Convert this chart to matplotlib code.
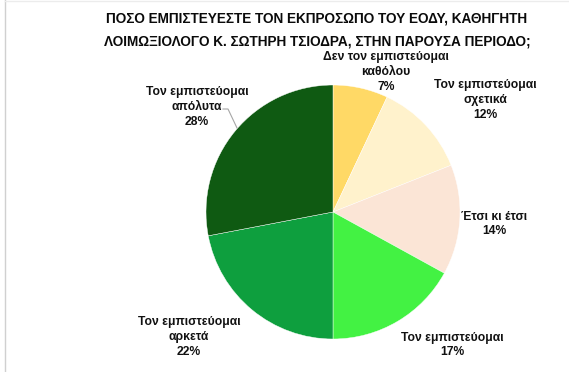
import matplotlib.pyplot as plt
from matplotlib.lines import Line2D

# -----------------------------
# DATA
# -----------------------------
labels = [
    "Δεν τον εμπιστεύομαι\nκαθόλου",
    "Τον εμπιστεύομαι\nσχετικά",
    "Έτσι κι έτσι",
    "Τον εμπιστεύομαι",
    "Τον εμπιστεύομαι\nαρκετά",
    "Τον εμπιστεύομαι\nαπόλυτα",
]
values = [7, 12, 14, 17, 22, 28]
colors = ["#FFD966", "#FFF2CC", "#FBE5D6", "#43F243", "#0E9F3E", "#0F5A12"]

title = "ΠΟΣΟ ΕΜΠΙΣΤΕΥΕΣΤΕ ΤΟΝ ΕΚΠΡΟΣΩΠΟ ΤΟΥ ΕΟΔΥ, ΚΑΘΗΓΗΤΗ\nΛΟΙΜΩΞΙΟΛΟΓΟ Κ. ΣΩΤΗΡΗ ΤΣΙΟΔΡΑ, ΣΤΗΝ ΠΑΡΟΥΣΑ ΠΕΡΙΟΔΟ;"

# label centres in pixel coords (y from bottom)
label_pos = [(386, 300), (485, 272), (494, 148), (452, 27), (189, 35), (197, 265)]

W, H = 569, 372

# -----------------------------
# PLOT
# -----------------------------
plt.rcParams["font.family"] = ["Liberation Sans", "DejaVu Sans"]

fig = plt.figure(figsize=(W / 100, H / 100), dpi=100)
ax = fig.add_axes([0, 0, 1, 1])

ax.pie(values, colors=colors, startangle=90, counterclock=False,
       center=(333, 160), radius=127, frame=True,
       wedgeprops=dict(edgecolor="white", linewidth=0.3))

ax.set_xlim(0, W)
ax.set_ylim(0, H)
ax.set_aspect("equal")
ax.axis("off")

for lab, v, (x, y) in zip(labels, values, label_pos):
    ax.text(x, y, f"{lab}\n{v}%", ha="center", va="center",
            fontsize=8.7, fontweight="bold", color="#111111",
            linespacing=1.32)

# leader line for the 28% label
ax.plot([223, 228, 237], [263, 263, 244], color="#a6a6a6", lw=0.8)

ax.text(317, 342, title, ha="center", va="center", fontsize=9.8,
        fontweight="bold", color="#0a0a0a", linespacing=1.75)

# thin frame line on the left like the source screenshot
fig.add_artist(Line2D([4.5 / W, 4.5 / W], [0, 1], color="#d0d0d0", lw=1))
fig.add_artist(Line2D([4.5 / W, 1], [1 - 0.5 / H, 1 - 0.5 / H], color="#ececec", lw=1))

fig.savefig("out.png", dpi=100)
